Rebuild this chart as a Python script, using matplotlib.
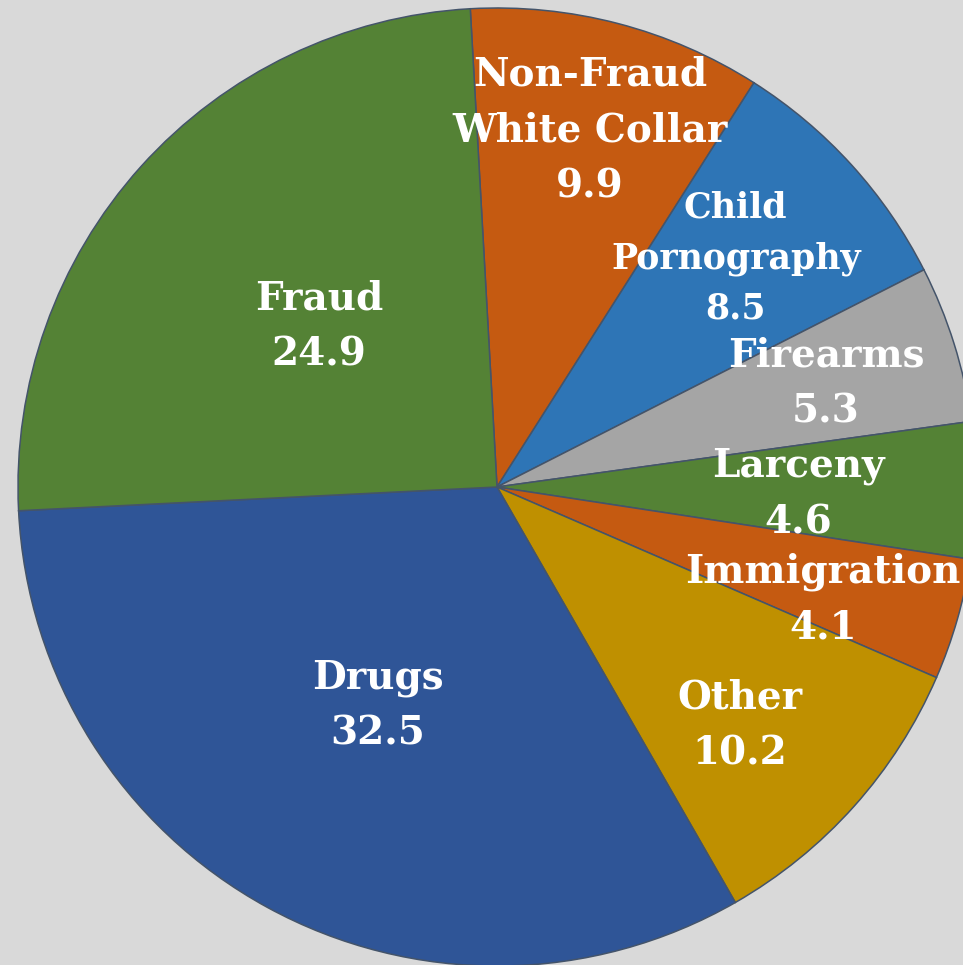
import matplotlib
matplotlib.use("Agg")
import matplotlib.pyplot as plt
import numpy as np

# offense categories, percent of cases
categories = ["Non-Fraud\nWhite Collar", "Child\nPornography", "Firearms", "Larceny",
              "Immigration", "Other", "Drugs", "Fraud"]
values = [9.9, 8.5, 5.3, 4.6, 4.1, 10.2, 32.5, 24.9]
colors = ["#c55a11", "#2e75b6", "#a5a5a5", "#548235",
          "#c55a11", "#bf9000", "#2f5597", "#548235"]

# label layout: radial fraction of radius, angle nudge (deg), font size
label_dist = [0.77, 0.69, 0.72, 0.63, 0.72, 0.71, 0.52, 0.50]
label_nudge = [0, 1.5, 0, -1, -3, -2.7, 0, 0]
label_size = [28, 25, 28, 28, 28, 28, 28, 28]


def main():
    fig = plt.figure(figsize=(9.63, 9.65), dpi=100)
    fig.patch.set_facecolor("#d9d9d9")
    ax = fig.add_axes([0, 0, 1, 1])
    ax.set_facecolor("#d9d9d9")

    cx, cy, r = 497, 478, 479
    wedges, _ = ax.pie(values, colors=colors, startangle=93.2, counterclock=False,
                       center=(cx, cy), radius=r, frame=True,
                       wedgeprops=dict(edgecolor="#44546a", linewidth=1.1))
    ax.set_xlim(0, 963)
    ax.set_ylim(0, 965)
    ax.axis("off")

    for w, cat, v, d, nd, fs in zip(wedges, categories, values, label_dist,
                                    label_nudge, label_size):
        ang = np.deg2rad((w.theta1 + w.theta2) / 2 + nd)
        x = cx + d * r * np.cos(ang)
        y = cy + d * r * np.sin(ang)
        ax.text(x, y, f"{cat}\n{v}", ha="center", va="center", color="white",
                fontsize=fs, fontweight="bold", family="DejaVu Serif",
                linespacing=1.6)

    fig.savefig("out.png", dpi=100, facecolor=fig.get_facecolor())


if __name__ == "__main__":
    main()
